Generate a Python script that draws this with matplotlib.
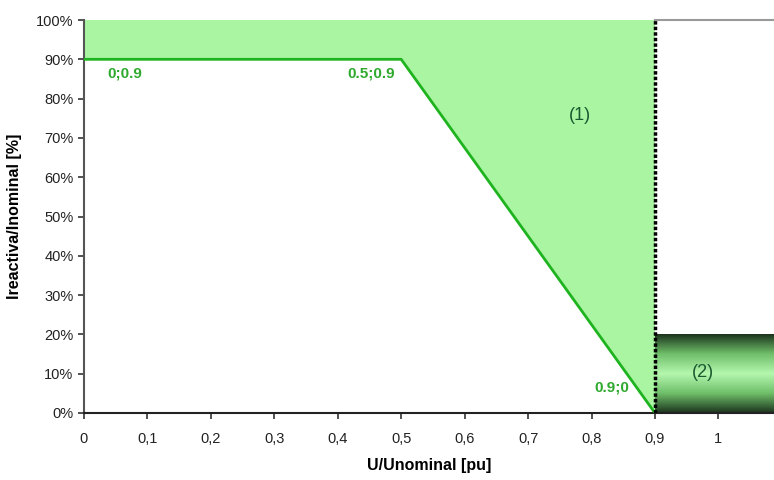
import numpy as np
import matplotlib.pyplot as plt
from matplotlib.colors import LinearSegmentedColormap

plt.rcParams['font.family'] = ['Liberation Sans', 'DejaVu Sans']

# limit curve (pu, fraction)
curve_u = [0.0, 0.5, 0.9]
curve_i = [0.9, 0.9, 0.0]
point_labels = ['0;0.9', '0.5;0.9', '0.9;0']
x_ticks = [0, 0.1, 0.2, 0.3, 0.4, 0.5, 0.6, 0.7, 0.8, 0.9, 1.0]
x_ticklabels = ['0', '0,1', '0,2', '0,3', '0,4', '0,5', '0,6', '0,7', '0,8', '0,9', '1']
y_ticks = [0, 0.1, 0.2, 0.3, 0.4, 0.5, 0.6, 0.7, 0.8, 0.9, 1.0]
y_ticklabels = ['0%', '10%', '20%', '30%', '40%', '50%', '60%', '70%', '80%', '90%', '100%']
u_limit = 0.9
zone2_top = 0.2
x_max = 1.0876

fig = plt.figure(figsize=(7.74, 4.8), dpi=100)
ax = fig.add_axes([0.1085, 0.1396, 1 - 0.1085, 0.9583 - 0.1396])

# zone (1)
poly_x = [0.0] + curve_u + [u_limit]
poly_y = [1.0] + curve_i + [1.0]
ax.fill(poly_x, poly_y, color='#a9f5a2', lw=0, zorder=1)
ax.plot(curve_u, curve_i, color='#1fb41f', lw=2, zorder=3)

# zone (2) with vertical gradient
cmap = LinearSegmentedColormap.from_list('g', ['#1c331c', '#6fbf6a', '#b4f7ae', '#6fbf6a', '#1c331c'])
grad = np.linspace(0, 1, 256).reshape(-1, 1)
ax.imshow(grad, extent=[u_limit, x_max, 0, zone2_top], cmap=cmap, aspect='auto', zorder=1)

ax.plot([u_limit, u_limit], [0, 1.0], color='black', lw=2.5, ls=(0, (1, 0.6)), zorder=4)
ax.plot([u_limit, x_max], [1.0, 1.0], color='#999999', lw=1.5, zorder=2, clip_on=False)

lab_pos = [(0.065, 0.865), (0.452, 0.865), (0.832, 0.064)]
for txt, (px, py) in zip(point_labels, lab_pos):
    ax.text(px, py, txt, color='#2faa2f', fontsize=11, fontweight='bold', ha='center', va='center', zorder=5)
ax.text(0.782, 0.756, '(1)', color='#1a5a30', fontsize=13, ha='center', va='center', zorder=5)
ax.text(0.976, 0.102, '(2)', color='#1a5a30', fontsize=13, ha='center', va='center', zorder=5)

ax.set_xlim(0, x_max)
ax.set_ylim(0, 1.0)
ax.set_xticks(x_ticks)
ax.set_xticklabels(x_ticklabels)
ax.set_yticks(y_ticks)
ax.set_yticklabels(y_ticklabels)
ax.tick_params(direction='out', length=4, width=1.2, color='#333333', labelsize=10.5, labelcolor='#222222')
ax.tick_params(axis='x', pad=10)
ax.spines['top'].set_visible(False)
ax.spines['right'].set_visible(False)
ax.spines['left'].set_color('#555555')
ax.spines['left'].set_linewidth(1.5)
ax.spines['bottom'].set_color('#222222')
ax.spines['bottom'].set_linewidth(1.5)
ax.set_xlabel('U/Unominal [pu]', fontsize=11.5, fontweight='bold', labelpad=8)
ax.set_ylabel('Ireactiva/Inominal [%]', fontsize=11.5, fontweight='bold', labelpad=10)

fig.savefig('out.png', dpi=100)
